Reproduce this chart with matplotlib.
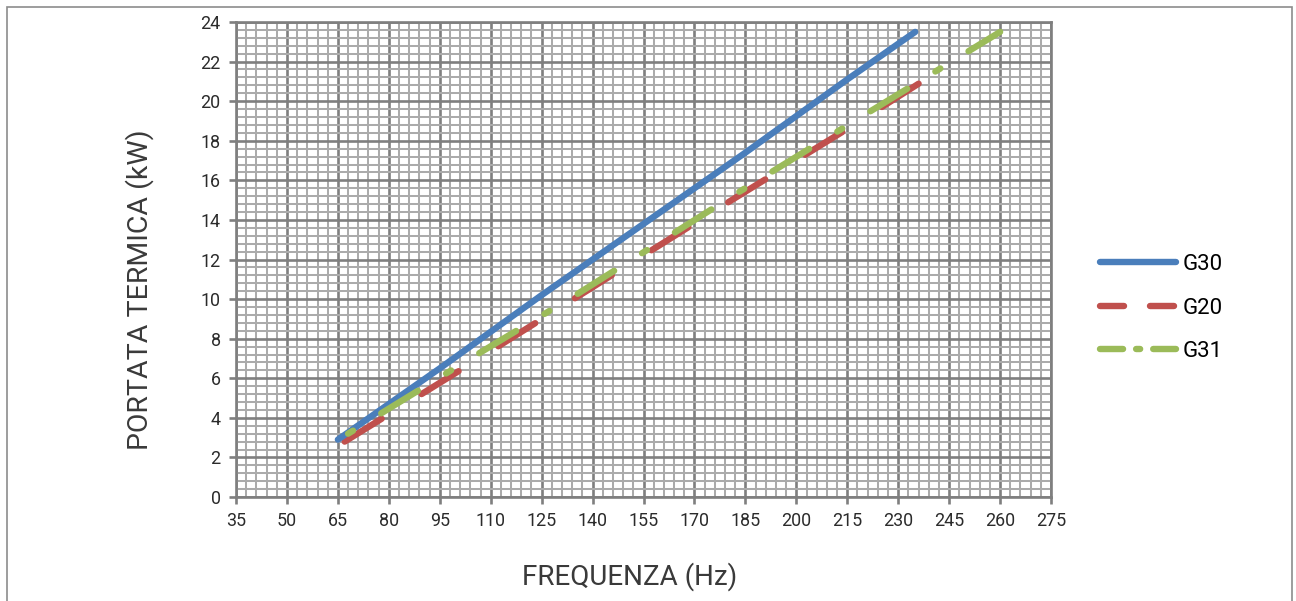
import matplotlib
matplotlib.use("Agg")
import matplotlib.pyplot as plt
from matplotlib.lines import Line2D
from matplotlib.patches import Rectangle
from matplotlib.ticker import FixedLocator

plt.rcParams['font.family'] = ['Roboto', 'DejaVu Sans']
plt.rcParams['lines.scale_dashes'] = False

# data
g30_x = [65, 95, 125, 155, 185, 215, 235]
g30_y = [2.9, 6.5, 10.2, 13.8, 17.4, 21.1, 23.5]

g20_x = [67, 100, 140, 180, 215, 238]
g20_y = [2.8, 6.3, 10.6, 14.9, 18.6, 21.1]

g31_x = [68, 105, 135, 183, 220, 260]
g31_y = [3.2, 7.1, 10.2, 15.4, 19.3, 23.5]

x_ticks = list(range(35, 276, 15))
y_ticks = list(range(0, 25, 2))
labels = ["G30", "G20", "G31"]
colors = ["#4A7EBB", "#C0504D", "#9BBB59"]

fig = plt.figure(figsize=(12.96, 6.01), dpi=100)
ax = fig.add_axes([0.1821, 0.173, 0.811 - 0.1821, 0.9634 - 0.173])

lw = 4.6
ax.plot(g30_x, g30_y, color=colors[0], lw=lw, solid_capstyle='round', zorder=5)
ax.plot(g20_x, g20_y, color=colors[1], lw=lw, dash_capstyle='round',
        dashes=(31.3, 33.8), zorder=4)
ax.plot(g31_x, g31_y, color=colors[2], lw=lw, dash_capstyle='round',
        dashes=(4.2, 23.8, 31.0, 23.8), zorder=6)

ax.set_xlim(35, 275)
ax.set_ylim(0, 24)
ax.xaxis.set_major_locator(FixedLocator(x_ticks))
ax.xaxis.set_minor_locator(FixedLocator(range(35, 276, 3)))
ax.yaxis.set_major_locator(FixedLocator(y_ticks))
ax.yaxis.set_minor_locator(FixedLocator([i * 0.4 for i in range(61)]))

ax.set_axisbelow(True)
ax.grid(which='minor', color='#ABABAB', lw=1.45)
ax.grid(which='major', color='#7F7F7F', lw=1.9)
for s in ax.spines.values():
    s.set_color('#7F7F7F')
    s.set_linewidth(1.9)

ax.tick_params(which='major', length=5, width=1.9, color='#7F7F7F',
               labelsize=12.9, labelcolor='#2b2b2b', pad=6)
ax.tick_params(which='minor', length=0)

ax.set_xlabel("FREQUENZA (Hz)", fontsize=20, color='#3a3a3a')
ax.set_ylabel("PORTATA TERMICA (kW)", fontsize=20.5, color='#3a3a3a')
ax.xaxis.set_label_coords(0.483, -0.137)
ax.yaxis.set_label_coords(-0.1, 0.436)

handles = [
    Line2D([], [], color=colors[0], lw=lw, solid_capstyle='round'),
    Line2D([], [], color=colors[1], lw=lw, dash_capstyle='round', dashes=(17.3, 18.7)),
    Line2D([], [], color=colors[2], lw=lw, dash_capstyle='round',
           dashes=(16.6, 9.4, 2.9, 9.4)),
]
fig.legend(handles, labels, loc='center left', bbox_to_anchor=(0.849, 0.4875),
           frameon=False, fontsize=16, handlelength=3.4, handletextpad=0.3,
           labelspacing=1.02, borderpad=0, borderaxespad=0)

fig.patches.append(Rectangle((7 / 1296, -0.01), (1292 - 7) / 1296, 1 - 7 / 601 + 0.01,
                             transform=fig.transFigure, fill=False,
                             edgecolor='#8C8C8C', lw=1.2))

fig.savefig("out.png", dpi=100)
